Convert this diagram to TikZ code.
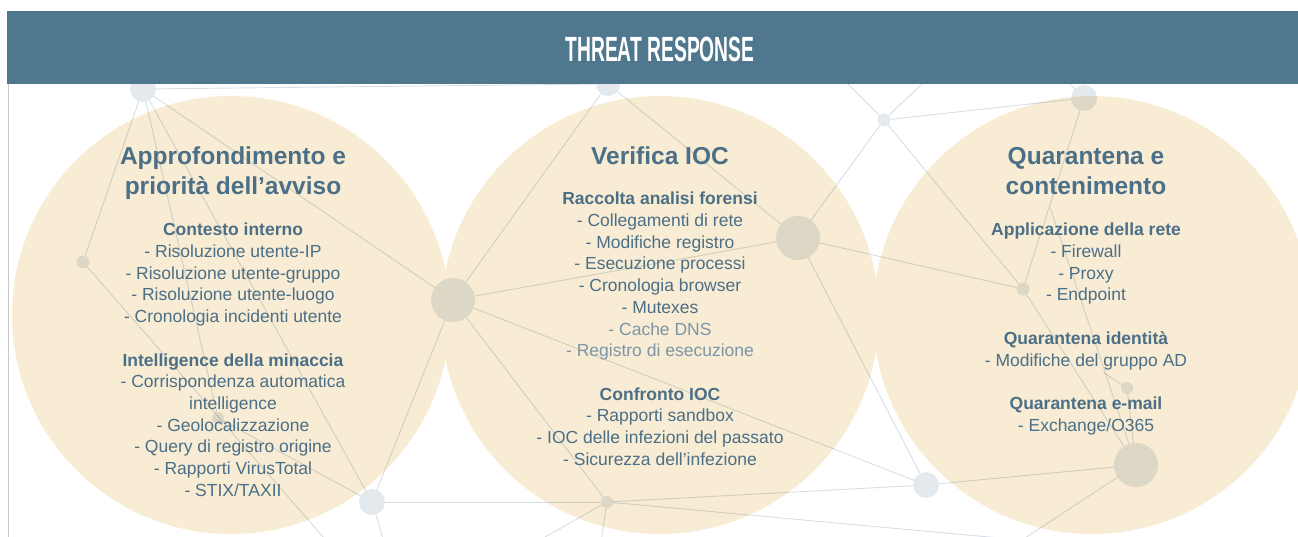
\documentclass[tikz,border=0pt]{standalone}
\usepackage{fontspec}
\setmainfont{Liberation Sans}
\usepackage{xcolor}
\definecolor{palbanner}{HTML}{4F778E}
\definecolor{palcircle}{HTML}{F8ECD4}
\definecolor{palink}{HTML}{4B6F87}
\definecolor{palinklight}{HTML}{7C96A7}
\definecolor{palnode}{HTML}{E4E9EE}
\definecolor{palnet}{HTML}{D6DFE6}
\definecolor{palframe}{HTML}{C8C8C8}
\usepackage{tikz}

\begin{document}
\begin{tikzpicture}[
  x=1pt, y=-1pt,
  blob/.style={fill=palcircle},
  hub/.style={circle, fill=palnode, inner sep=0pt, minimum size=#1},
  hub/.default=13pt,
  link/.style={draw=palnet, line width=0.9pt},
  head/.style={font=\bfseries\fontsize{24.5}{30}\selectfont, text=palink, align=center,
               anchor=north, inner sep=0pt},
  items/.style={font=\fontsize{17.5}{21.7}\selectfont, text=palink, align=center,
                anchor=north, inner sep=0pt}
]
\useasboundingbox (0,0) rectangle (1298,537);
\clip (0,0) rectangle (1298,537);

\fill[blob] (231,315) circle (219pt);
\fill[blob] (660,315) circle (219pt);
\fill[blob] (1092,315) circle (219pt);

\begin{scope}[blend mode=multiply]
\node[hub=26pt] (p1) at (143,89) {};
\node[hub] (p2) at (83,262) {};
\node[hub=44pt] (p3) at (453,300) {};
\node[hub=12pt] (p4) at (218,418) {};
\node[hub=26pt] (p5) at (372,502) {};
\node[hub=24pt] (p6) at (608,84) {};
\node[hub=44pt] (p7) at (798,238) {};
\node[hub=12pt] (p8) at (607,502) {};
\node[hub] (p9) at (884,120) {};
\node[hub=26pt] (p10) at (1084,98) {};
\node[hub] (p11) at (1023,289) {};
\node[hub=12pt] (p12) at (1127,388) {};
\node[hub=44pt] (p13) at (1136,465) {};
\node[hub=26pt] (p14) at (926,485) {};
\coordinate (q1) at (345,562);
\coordinate (q2) at (390,562);
\coordinate (q3) at (522,550);
\coordinate (q4) at (598,562);
\coordinate (q5) at (1022,540);
\coordinate (q6) at (830,66);
\coordinate (q7) at (945,62);
\coordinate (q8) at (1052,66);
\coordinate (q9) at (1050,207);
\coordinate (q10) at (1104,373);
\foreach \a/\b in {p1/p2, p1/p3, p1/p4, p1/p5, p1/p6, p2/q1, p3/p5, p3/p6, p3/p7,
                   p3/p8, p3/p14, p4/p5, p5/p8, p5/q2, p6/p7, p7/p9, p7/p11, p7/p14,
                   p8/p14, p8/q3, p8/q4, p8/q5, p9/p10, p9/p11, p9/q6, p9/q7,
                   p10/p11, p10/q8, p11/p13, p12/p13, p12/q10, p13/p14, p13/q5, p13/q9}
  \draw[link] (\a) -- (\b);
\end{scope}

\fill[palbanner] (7,11) rectangle (1298,84);
\draw[palframe, line width=1pt] (8,84) -- (8,537);
\node[font=\bfseries\fontsize{35}{40}\selectfont, text=white, inner sep=0pt, anchor=north]
  (banner) at (660,37) {\scalebox{0.55}[1]{THREAT RESPONSE}};

\node[head] (alert) at (233,147) {Approfondimento e\\priorità dell'avviso};
\node[items] (alertlist) at (233,223) {\textbf{Contesto interno}\\- Risoluzione utente-IP\\
  - Risoluzione utente-gruppo\\- Risoluzione utente-luogo\\- Cronologia incidenti utente\\[21.7pt]
  \textbf{Intelligence della minaccia}\\- Corrispondenza automatica\\intelligence\\
  - Geolocalizzazione\\- Query di registro origine\\- Rapporti VirusTotal\\- STIX/TAXII};

\node[head] (ioc) at (660,147) {Verifica IOC};
\node[items] (ioclist) at (660,192) {\textbf{Raccolta analisi forensi}\\- Collegamenti di rete\\
  - Modifiche registro\\- Esecuzione processi\\- Cronologia browser\\- Mutexes\\
  \textcolor{palinklight}{- Cache DNS}\\\textcolor{palinklight}{- Registro di esecuzione}\\[21.7pt]
  \textbf{Confronto IOC}\\- Rapporti sandbox\\- IOC delle infezioni del passato\\
  - Sicurezza dell'infezione};

\node[head] (quar) at (1086,147) {Quarantena e\\contenimento};
\node[items] (quarlist) at (1086,223) {\textbf{Applicazione della rete}\\- Firewall\\- Proxy\\
  - Endpoint\\[21.7pt]\textbf{Quarantena identità}\\- Modifiche del gruppo AD\\[21.7pt]
  \textbf{Quarantena e-mail}\\- Exchange/O365};
\end{tikzpicture}
\end{document}
